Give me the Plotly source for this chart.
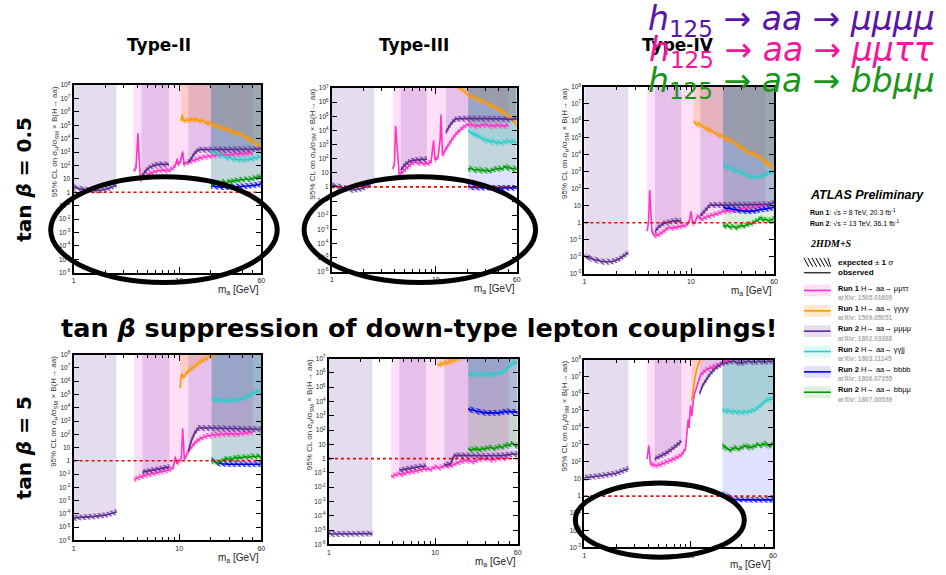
import math
import plotly.graph_objects as go

W, H = 946, 575

# ----------------------------------------------------------------------------
# Observed 95% CL limits on sigma_H/sigma_SM x B(H->aa) versus m_a [GeV]
# ----------------------------------------------------------------------------

# Type-II, tan(beta) = 0.5
t2_05_mmtt_m = [3.7, 3.9, 4.0, 4.07, 4.15, 4.3, 4.6, 5.0, 5.5, 6.3, 7.0, 8.0, 9.0, 9.4, 9.6, 9.8, 10.3, 10.8, 11.1, 12.0, 13.8, 16, 20, 25, 30, 35, 40, 45, 50]
t2_05_mmtt_lim = [40, 60, 2000, 25000, 900, 7.6, 13, 20, 28, 40, 45, 40, 75, 150, 300, 110, 200, 1100, 120, 180, 230, 380, 500, 650, 600, 750, 700, 850, 800]
t2_05_g4_m = [10.4, 10.7, 11.0, 12, 14, 16, 18, 20, 23, 25, 30, 35, 40, 45, 50, 55, 60]
t2_05_g4_lim = [2e5, 5.5e5, 2.2e5, 2.3e5, 2.6e5, 2.2e5, 1.6e5, 1.2e5, 8e4, 6e4, 4e4, 2.6e4, 1.8e4, 1.0e4, 6e3, 3.5e3, 2.3e3]
t2_05_m4a_m = [1.0, 1.2, 1.5, 1.8, 2.1, 2.35, 2.55]
t2_05_m4a_lim = [2.4, 1.7, 1.35, 1.4, 1.8, 2.6, 3.5]
t2_05_m4b_m = [4.4, 4.7, 5.0, 5.5, 6.0, 6.5, 7.0, 7.5, 8.0]
t2_05_m4b_lim = [15, 30, 55, 85, 110, 120, 115, 120, 120]
t2_05_m4c_m = [12.2, 13, 14, 15.2, 18, 20, 25, 30, 35, 40, 45, 50, 55, 60]
t2_05_m4c_lim = [150, 350, 800, 1500, 1500, 1450, 1500, 1500, 1450, 1500, 1550, 1600, 1700, 1800]
t2_05_ggjj_m = [20, 22, 25, 28, 32, 36, 40, 45, 50, 55, 60]
t2_05_ggjj_lim = [1200, 800, 550, 400, 300, 260, 250, 270, 320, 400, 450]
t2_05_b4_m = [20, 25, 30, 35, 40, 45, 50, 55, 60]
t2_05_b4_lim = [3.0, 2.4, 2.3, 2.4, 2.6, 2.9, 3.2, 3.6, 4.0]
t2_05_bbmm_m = [20, 21, 22, 23, 24, 26, 28, 30, 32, 34, 36, 38, 40, 43, 46, 50, 53, 56, 60]
t2_05_bbmm_lim = [3, 4, 3.5, 5, 4.5, 6, 5, 7, 6, 8, 7, 9, 8, 10, 9, 11, 12, 14, 16]

# Type-III, tan(beta) = 0.5
t3_05_mmtt_m = [3.85, 4.0, 4.1, 4.25, 4.45, 4.6, 5.0, 5.5, 6.0, 7.0, 8.2, 9.0, 9.3, 9.5, 9.8, 10.5, 11.0, 11.2, 11.6, 12.5, 14, 15.6, 18, 20.5, 25, 30, 35, 40, 45, 50]
t3_05_mmtt_lim = [19, 40, 2e4, 300, 5, 8.5, 15, 30, 55, 50, 43, 55, 300, 1.9e3, 80, 120, 2e3, 1.3e5, 160, 480, 1.8e3, 5.4e3, 1.5e4, 2.7e4, 2e4, 2.5e4, 2e4, 2.3e4, 2e4, 2.2e4]
t3_05_g4_m = [10.4, 14, 16.8, 20.5, 26, 32.5, 40.5, 50.6, 56, 60]
t3_05_g4_lim = [1e8, 3e7, 1e7, 3.1e6, 1.5e6, 7e5, 3e5, 1e5, 5e4, 2e4]
t3_05_m4a_m = [1.0, 1.3, 1.6, 2.0, 2.3, 2.57]
t3_05_m4a_lim = [1.3, 0.8, 0.6, 0.8, 1.5, 3.0]
t3_05_m4b_m = [4.6, 5.0, 5.5, 6.0, 7.0, 8.2]
t3_05_m4b_lim = [15, 35, 60, 75, 85, 90]
t3_05_m4c_m = [12.5, 13.5, 14.5, 15.6, 20, 25, 30, 35, 40, 45, 50, 55, 60]
t3_05_m4c_lim = [7e3, 2e4, 4e4, 6.5e4, 7e4, 7e4, 6.8e4, 7e4, 6.5e4, 6.5e4, 6e4, 6e4, 6.5e4]
t3_05_ggjj_m = [20.5, 23, 26, 30, 35, 40, 45, 50, 55, 60]
t3_05_ggjj_lim = [9e3, 6e3, 3.5e3, 2e3, 1.5e3, 1.3e3, 1.4e3, 1.7e3, 1.5e3, 1.4e3]
t3_05_b4_m = [20.5, 25, 30, 40, 50, 60]
t3_05_b4_lim = [1.0, 0.9, 0.85, 0.85, 0.85, 0.85]
t3_05_bbmm_m = [20.5, 22, 24, 26, 28, 30, 33, 36, 40, 43, 47, 50, 55, 60]
t3_05_bbmm_lim = [18, 20, 15, 17, 14, 15, 13, 17, 20, 18, 28, 22, 20, 18]

# Type-IV, tan(beta) = 0.5
t4_05_mmtt_m = [3.88, 4.0, 4.1, 4.2, 4.3, 4.6, 5.0, 5.5, 6.1, 7.0, 8.1, 8.8, 9.3, 9.7, 10.0, 10.3, 10.8, 11.5, 12.5, 13.4, 15, 16.6, 18, 20, 24, 28, 34, 40, 45, 50]
t4_05_mmtt_lim = [0.32, 1, 85, 3, 0.3, 0.17, 0.2, 0.3, 0.5, 0.5, 0.6, 0.7, 0.8, 1.5, 4.7, 1, 0.9, 2.5, 1.5, 2, 2.5, 3, 3.5, 4.7, 5, 6, 7.5, 8, 10, 11.6]
t4_05_g4_m = [10.6, 11, 12, 13.4, 16, 18, 20, 23, 25.4, 30, 34, 40, 45, 50, 55, 60]
t4_05_g4_lim = [1e6, 7e5, 6e5, 4e5, 2.2e5, 1.5e5, 1.1e5, 7e4, 5.5e4, 2.5e4, 1.4e4, 1e4, 7e3, 3.5e3, 2.5e3, 1.5e3]
t4_05_m4a_m = [1.0, 1.2, 1.5, 1.8, 2.1, 2.35, 2.58]
t4_05_m4a_lim = [0.011, 0.007, 0.005, 0.005, 0.007, 0.011, 0.017]
t4_05_m4b_m = [4.6, 5.0, 5.5, 6.1, 7.0, 8.1]
t4_05_m4b_lim = [0.3, 0.6, 0.9, 1.1, 1.3, 1.3]
t4_05_m4c_m = [12.2, 13.5, 15.1, 20, 25, 30, 35, 40, 45, 50, 55, 60]
t4_05_m4c_lim = [2.5, 5, 11, 11, 11, 11, 11, 11, 11.5, 12, 13, 15]
t4_05_ggjj_m = [20, 22, 25.4, 30, 36, 42, 48, 52, 56, 60]
t4_05_ggjj_lim = [2.5e3, 1.8e3, 1.3e3, 800, 500, 470, 600, 800, 950, 1e3]
t4_05_b4_m = [20, 25, 30, 35, 40, 45, 50, 55, 60]
t4_05_b4_lim = [8, 6, 5, 4.7, 5, 6, 6.5, 7, 8]
t4_05_bbmm_m = [20, 21, 22, 23, 25, 27, 29, 31, 34, 37, 40, 43, 45, 48, 50, 55, 60]
t4_05_bbmm_lim = [0.8, 0.6, 0.7, 0.55, 0.6, 0.5, 0.7, 0.6, 0.8, 0.9, 1.2, 1.5, 2, 1.4, 1.6, 1.3, 1.8]

# Type-II, tan(beta) = 5
t2_5_mmtt_m = [3.74, 4.0, 4.5, 5.0, 6.0, 7.0, 8.1, 8.8, 9.2, 9.5, 10.0, 10.5, 10.8, 11.0, 11.2, 12.2, 13.0, 13.9, 15, 16, 18, 20.3, 25, 30, 35, 40, 45, 50]
t2_5_mmtt_lim = [0.038, 0.05, 0.068, 0.09, 0.12, 0.16, 0.21, 0.3, 2, 0.6, 0.9, 1.5, 270, 3, 1.2, 5, 10, 20, 35, 48, 70, 85, 100, 110, 100, 120, 140, 150]
t2_5_g4_m = [10.2, 10.5, 11, 12, 14, 16, 18.5, 20.5, 25, 60]
t2_5_g4_lim = [3e5, 3e6, 2e6, 5e6, 1.3e7, 3e7, 5.5e7, 9e7, 2e8, 5e8]
t2_5_m4a_m = [1.0, 1.3, 1.6, 2.0, 2.3, 2.55]
t2_5_m4a_lim = [5e-5, 5.5e-5, 6.5e-5, 8e-5, 1.1e-4, 1.4e-4]
t2_5_m4b_m = [4.5, 5.0, 6.0, 7.0, 8.1]
t2_5_m4b_lim = [0.14, 0.17, 0.22, 0.28, 0.35]
t2_5_m4c_m = [12.2, 13, 14, 15.2, 20, 25, 30, 35, 40, 45, 50, 55, 60]
t2_5_m4c_lim = [5, 30, 120, 300, 300, 290, 280, 270, 260, 250, 240, 230, 230]
t2_5_ggjj_m = [20.3, 23, 25, 30, 35, 40, 45, 50, 55, 60]
t2_5_ggjj_lim = [4e4, 3.8e4, 3.5e4, 3.3e4, 3.8e4, 4.5e4, 7e4, 1.2e5, 1.6e5, 1.8e5]
t2_5_b4_m = [20.3, 22, 25, 30, 40, 50, 60]
t2_5_b4_lim = [1.1, 0.8, 0.6, 0.55, 0.55, 0.55, 0.55]
t2_5_bbmm_m = [20.3, 21.5, 23, 25, 28, 31, 35, 38, 42, 45, 50, 53, 56, 60]
t2_5_bbmm_lim = [1.2, 0.9, 0.65, 0.9, 1.5, 1.3, 1.8, 1.6, 2.0, 1.8, 2.2, 1.9, 2.4, 1.7]

# Type-III, tan(beta) = 5
t3_5_mmtt_m = [3.86, 4.2, 4.6, 5.0, 5.5, 6.2, 7.0, 8.2, 9.0, 10.2, 11.0, 12.7, 14, 16, 19.5, 23, 26, 30, 35, 40, 45, 49.5]
t3_5_mmtt_lim = [0.054, 0.07, 0.09, 0.08, 0.11, 0.12, 0.15, 0.2, 0.17, 0.27, 0.22, 0.35, 0.3, 0.5, 0.78, 0.6, 0.9, 1.0, 0.8, 1.1, 1.0, 1.25]
t3_5_g4_m = [10.6, 12, 14, 16, 20, 60]
t3_5_g4_lim = [3.5e6, 4.5e6, 6e6, 9e6, 1.5e7, 1e8]
t3_5_m4a_m = [1.0, 1.5, 2.0, 2.57]
t3_5_m4a_lim = [5.3e-6, 5.5e-6, 5.4e-6, 5.6e-6]
t3_5_m4b_m = [4.6, 5.0, 6.0, 7.0, 8.2]
t3_5_m4b_lim = [0.15, 0.17, 0.22, 0.27, 0.3]
t3_5_m4c_m = [12.2, 13, 14, 15.2, 20, 25, 30, 35, 40, 45, 50, 55, 60]
t3_5_m4c_lim = [0.35, 0.38, 0.42, 1.7, 1.6, 1.6, 1.6, 1.6, 1.6, 1.7, 1.9, 2.2, 1.9]
t3_5_ggjj_m = [20.5, 25, 30, 35, 40, 45, 50, 55, 60]
t3_5_ggjj_lim = [8e5, 7.5e5, 7.5e5, 8e5, 9e5, 1.3e6, 3e6, 5e6, 5.5e6]
t3_5_b4_m = [20.5, 23, 26, 30, 35, 40, 46, 50, 55, 60]
t3_5_b4_lim = [3e3, 2.3e3, 1.9e3, 1.6e3, 1.6e3, 1.6e3, 2e3, 1.9e3, 1.8e3, 1.8e3]
t3_5_bbmm_m = [20.5, 22, 24, 26, 28, 30, 33, 36, 40, 43, 46, 50, 53, 56, 60]
t3_5_bbmm_lim = [5, 4, 5, 4, 5, 5, 6, 5, 7, 6, 9, 8, 12, 9, 7]

# Type-IV, tan(beta) = 5
t4_5_mmtt_m = [3.9, 4.05, 4.2, 4.6, 5.0, 6.0, 7.0, 8.2, 9.0, 9.5, 9.7, 10.0, 10.3, 10.8, 11.5, 12.5, 14, 16.7, 19, 20, 25, 50]
t4_5_mmtt_lim = [150, 900, 80, 60, 65, 100, 150, 250, 600, 3e4, 1e4, 2e5, 5e4, 8e5, 3e6, 1.3e7, 2.5e7, 4e7, 5e7, 7e7, 1.2e8, 1.5e8]
t4_5_g4_m = [10.3, 10.6, 11, 11.7, 12.5, 60]
t4_5_g4_lim = [4e5, 2e6, 8e6, 4e7, 1.2e8, 1e9]
t4_5_m4a_m = [1.0, 1.5, 2.0, 2.6]
t4_5_m4a_lim = [12, 16, 22, 40]
t4_5_m4b_m = [4.6, 5.0, 6.0, 7.0, 8.2]
t4_5_m4b_lim = [150, 200, 350, 700, 1.6e3]
t4_5_m4c_m = [12.2, 13, 15, 17, 20, 25, 30, 35, 40, 45, 50, 55, 60]
t4_5_m4c_lim = [1e6, 3e6, 1.2e7, 3e7, 6e7, 8e7, 6e7, 8e7, 7e7, 8e7, 7e7, 8e7, 8e7]
t4_5_ggjj_m = [20, 25, 30, 35, 40, 45, 50, 55, 60]
t4_5_ggjj_lim = [1e5, 8.5e4, 8e4, 8.5e4, 1.1e5, 1.8e5, 3.5e5, 4.8e5, 4.8e5]
t4_5_b4_m = [20, 22, 25, 30, 40, 60]
t4_5_b4_lim = [1.5, 1.0, 0.65, 0.6, 0.6, 0.6]
t4_5_bbmm_m = [20, 22, 24, 26, 28, 30, 33, 36, 40, 43, 46, 50, 53, 56, 60]
t4_5_bbmm_lim = [900, 600, 500, 700, 550, 700, 900, 700, 800, 1.1e3, 900, 1.2e3, 1e3, 800, 1.3e3]

# sigma x B = SM reference line
REF_M = [1, 60]
REF_LEVEL = [1, 1]

# x-axis ticks
X_TICKS = [1, 10, 60]
X_TICK_TEXT = ["1", "10", "60"]
X_MINOR = [2, 3, 4, 5, 6, 7, 8, 9, 20, 30, 40, 50]

# legend entries
LEG_RUN = ["Run 1", "Run 1", "Run 2", "Run 2", "Run 2", "Run 2"]
LEG_DECAY = ["μμττ", "γγγγ", "μμμμ", "γγjj", "bbbb", "bbμμ"]
LEG_ARXIV = ["1505.01609", "1509.05051", "1802.03388", "1803.11145", "1806.07355", "1807.00539"]
LEG_KEYS = ["mmtt", "g4", "m4", "ggjj", "b4", "bbmm"]

# ----------------------------------------------------------------------------
# styles
# ----------------------------------------------------------------------------
STYLE = {
    # line colour, fill rgb, fill alpha
    "mmtt": ("#ff33c4", (255, 0, 200), 0.13),
    "g4": ("#ff9a00", (255, 140, 0), 0.2),
    "m4": ("#5b2d91", (100, 40, 160), 0.16),
    "ggjj": ("#2ccccc", (0, 190, 190), 0.13),
    "b4": ("#0000e6", (0, 0, 255), 0.12),
    "bbmm": ("#009a00", (0, 150, 0), 0.13),
}
SEGMENTS = [("mmtt", "mmtt"), ("g4", "g4"), ("m4a", "m4"), ("m4b", "m4"),
            ("m4c", "m4"), ("ggjj", "ggjj"), ("b4", "b4"), ("bbmm", "bbmm")]

# panel frames (left, right, top, bottom in px) and y decade range
PANELS = [
    ("t2_05", (72, 261, 82, 272), (-6, 8)),
    ("t3_05", (332, 518, 85, 271), (-6, 7)),
    ("t4_05", (586, 777, 84, 273), (-3, 8)),
    ("t2_5", (72, 261, 355, 543), (-6, 8)),
    ("t3_5", (329, 519, 359, 547), (-6, 7)),
    ("t4_5", (586, 776, 360, 550), (-3, 8)),
]
HATCH_HALF_PX = 3.0

g = globals()


def px(x):
    return x / W


def py(y):
    return 1 - y / H


def rgba(rgb, a):
    return f"rgba({rgb[0]},{rgb[1]},{rgb[2]},{a})"


def blend(rgb, a):
    return "rgb(%d,%d,%d)" % tuple(round(255 * (1 - a) + c * a) for c in rgb)


def note(x, y, text, size, color="black", family="Liberation Sans, Arial, sans-serif",
         xanchor="center", yanchor="middle", angle=0):
    return dict(x=px(x), y=py(y), xref="paper", yref="paper", text=text,
                showarrow=False, xanchor=xanchor, yanchor=yanchor, textangle=angle,
                font=dict(family=family, size=size, color=color))


fig = go.Figure()
fills, hatches, lines = [], [], []

for i, (key, (l, r, t, b), (ymin, ymax)) in enumerate(PANELS, start=1):
    xa = "x" if i == 1 else f"x{i}"
    ya = "y" if i == 1 else f"y{i}"
    top = 10 ** ymax
    ppd = (b - t) / (ymax - ymin)
    f = 10 ** (HATCH_HALF_PX / ppd)
    for seg, sty in SEGMENTS:
        m = g[f"{key}_{seg}_m"]
        v = g[f"{key}_{seg}_lim"]
        lc, frgb, fa = STYLE[sty]
        # excluded region: from the observed limit up to the top of the frame
        fills.append(go.Scatter(
            x=m + m[::-1], y=v + [top] * len(m), xaxis=xa, yaxis=ya,
            mode="lines", line=dict(width=0), fill="toself",
            fillcolor=rgba(frgb, fa), hoverinfo="skip", showlegend=False))
        # hatched ribbon drawn along the limit curve
        hatches.append(go.Scatter(
            x=m + m[::-1], y=[y * f for y in v] + [y / f for y in v][::-1],
            xaxis=xa, yaxis=ya, mode="lines", line=dict(width=0),
            fill="toself", fillcolor="rgba(0,0,0,0)",
            fillpattern=dict(shape="\\", size=3.5, solidity=0.5, fgcolor=lc,
                             bgcolor="rgba(0,0,0,0)", fgopacity=0.8),
            hoverinfo="skip", showlegend=False))
        lines.append(go.Scatter(
            x=m, y=v, xaxis=xa, yaxis=ya, mode="lines",
            line=dict(color=lc, width=1.6), hoverinfo="skip", showlegend=False))
    lines.append(go.Scatter(
        x=REF_M, y=REF_LEVEL, xaxis=xa, yaxis=ya, mode="lines",
        line=dict(color="#ee0000", width=1.6, dash="dot"),
        hoverinfo="skip", showlegend=False))

for tr in fills + hatches + lines:
    fig.add_trace(tr)

annotations = []
axis_font = dict(family="Liberation Sans, Arial, sans-serif", size=7, color="#222")
for i, (key, (l, r, t, b), (ymin, ymax)) in enumerate(PANELS, start=1):
    xk = "xaxis" if i == 1 else f"xaxis{i}"
    yk = "yaxis" if i == 1 else f"yaxis{i}"
    yvals = [10 ** k for k in range(ymin, ymax + 1)]
    ytext = ["1" if k == 0 else "10" if k == 1 else f"10<sup>{k}</sup>"
             for k in range(ymin, ymax + 1)]
    fig.update_layout(**{
        xk: dict(domain=[px(l), px(r)], anchor="y" if i == 1 else f"y{i}",
                 type="log", range=[-0.0005, math.log10(60) + 0.0005],
                 tickvals=X_TICKS, ticktext=X_TICK_TEXT, ticks="inside",
                 ticklen=6, tickwidth=1, tickcolor="black",
                 minor=dict(tickvals=X_MINOR, ticks="inside", ticklen=3,
                            tickcolor="black", showgrid=False),
                 showline=True, linecolor="black", linewidth=2, mirror="ticks",
                 showgrid=False, zeroline=False, tickfont=axis_font),
        yk: dict(domain=[py(b), py(t)], anchor="x" if i == 1 else f"x{i}",
                 type="log", range=[ymin, ymax], tickvals=yvals, ticktext=ytext,
                 ticks="inside", ticklen=5, tickwidth=1, tickcolor="black",
                 showline=True, linecolor="black", linewidth=2, mirror="ticks",
                 showgrid=False, zeroline=False,
                 tickfont=dict(family="Liberation Sans, Arial, sans-serif",
                               size=6.5, color="#222")),
    })
    annotations.append(note(l - 19, t - 1,
                            "95% CL on σ<sub>H</sub>/σ<sub>SM</sub> × B(H→ aa)",
                            8, color="#333", yanchor="top", angle=-90))
    annotations.append(note(r, b + 18, "m<sub>a</sub> [GeV]", 10, color="#222",
                            xanchor="right"))

# titles and labels
bold = "DejaVu Sans, Liberation Sans, sans-serif"
for txt, x in [("Type-II", 158), ("Type-III", 415), ("Type-IV", 680)]:
    annotations.append(note(x, 42, f"<b>{txt}</b>", 17, family=bold))
for txt, y in [("tan <i>β</i> = 0.5", 177), ("tan <i>β</i> = 5", 449)]:
    annotations.append(note(22, y, f"<b>{txt}</b>", 20, family=bold, angle=-90))
annotations.append(note(420, 328,
                        "<b>tan <i>β</i> suppression of down-type lepton couplings!</b>",
                        25.5, family=bold))

formula_font = "DejaVu Sans, sans-serif"
for txt, col, y in [("μμμμ", "#5a14aa", 17), ("μμττ", "#f5159b", 48), ("bbμμ", "#1a961a", 79)]:
    annotations.append(note(941, y,
                            f"<i>h</i><sub>125</sub> → <i>aa</i> → <i>{txt}</i>",
                            33, color=col, family=formula_font, xanchor="right"))

# legend block
lf = "Liberation Sans, Arial, sans-serif"
annotations.append(note(811, 193, "<b><i>ATLAS Preliminary</i></b>", 12.5, family=lf,
                        xanchor="left"))
annotations.append(note(811, 211, "<b>Run 1</b>: √s = 8 TeV, 20.3 fb<sup>-1</sup>", 7,
                        family=lf, xanchor="left"))
annotations.append(note(811, 222, "<b>Run 2</b>: √s = 13 TeV, 36.1 fb<sup>-1</sup>", 7,
                        family=lf, xanchor="left"))
annotations.append(note(811, 242, "<b><i>2HDM+S</i></b>", 10,
                        family="Liberation Serif, serif", xanchor="left"))
annotations.append(note(839, 262, "<b>expected</b> ± <b>1</b> σ", 8, family=lf,
                        xanchor="left"))
annotations.append(note(839, 272, "<b>observed</b>", 8, family=lf, xanchor="left"))

shapes = []
# hatch swatch
for k in range(7):
    x0 = 807 + 4 * k
    shapes.append(dict(type="line", xref="paper", yref="paper",
                       x0=px(x0), x1=px(min(x0 + 5, 834)), y0=py(257), y1=py(266),
                       line=dict(color="black", width=1)))
shapes.append(dict(type="line", xref="paper", yref="paper", x0=px(807), x1=px(834),
                   y0=py(272), y1=py(272), line=dict(color="#333", width=1.5)))

for k, key in enumerate(LEG_KEYS):
    lc, frgb, fa = STYLE[key]
    yc = 290 + 20.6 * k
    shapes.append(dict(type="rect", xref="paper", yref="paper",
                       x0=px(807), x1=px(834), y0=py(yc - 6), y1=py(yc + 6),
                       fillcolor=blend(frgb, fa), line=dict(width=0)))
    shapes.append(dict(type="line", xref="paper", yref="paper",
                       x0=px(807), x1=px(834), y0=py(yc), y1=py(yc),
                       line=dict(color=lc, width=1.6)))
    annotations.append(note(839, yc - 2.5,
                            f"<b>{LEG_RUN[k]}</b> H→ aa→ {LEG_DECAY[k]}", 7.5,
                            family=lf, xanchor="left"))
    annotations.append(note(839, yc + 7, f"<b>arXiv: {LEG_ARXIV[k]}</b>", 6.5,
                            color="#aaaaaa", family=lf, xanchor="left"))

# highlight ellipses
for x0, x1, y0, y1 in [(49, 277, 175, 282), (304, 537, 175, 282), (577, 747, 485, 560)]:
    shapes.append(dict(type="circle", xref="paper", yref="paper", layer="above",
                       x0=px(x0), x1=px(x1), y0=py(y1), y1=py(y0),
                       line=dict(color="black", width=5)))

fig.update_layout(
    width=W, height=H, margin=dict(l=0, r=0, t=0, b=0),
    paper_bgcolor="white", plot_bgcolor="white", showlegend=False,
    annotations=annotations, shapes=shapes,
)

fig.write_html("out.html")
